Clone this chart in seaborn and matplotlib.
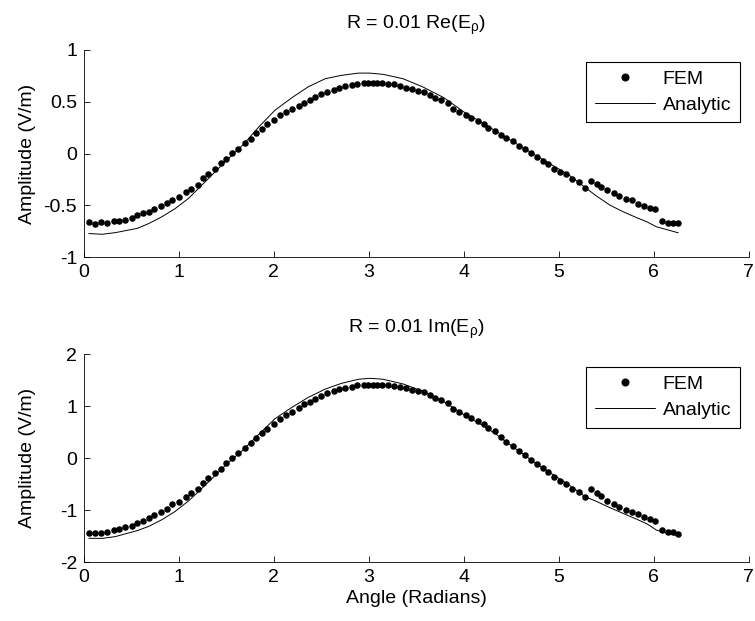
import numpy as np
import pandas as pd
import matplotlib
matplotlib.use("Agg")
import matplotlib.pyplot as plt
import seaborn as sns
from matplotlib.lines import Line2D

# ---------------- data ----------------
angle_fem = [0.05, 0.11, 0.18, 0.24, 0.31, 0.37, 0.43, 0.50, 0.56, 0.62,
             0.68, 0.74, 0.81, 0.87, 0.93, 1.00, 1.07, 1.13, 1.20, 1.25,
             1.31, 1.38, 1.44, 1.50, 1.56, 1.62, 1.70, 1.76, 1.81, 1.87,
             1.93, 2.00, 2.06, 2.13, 2.19, 2.26, 2.32, 2.38, 2.43, 2.50,
             2.56, 2.63, 2.69, 2.75, 2.82, 2.88, 2.95, 2.99, 3.04, 3.09,
             3.14, 3.20, 3.26, 3.33, 3.39, 3.45, 3.52, 3.58, 3.64, 3.70,
             3.76, 3.83, 3.89, 3.95, 4.02, 4.08, 4.15, 4.21, 4.26, 4.33,
             4.39, 4.45, 4.52, 4.58, 4.64, 4.71, 4.77, 4.83, 4.89, 4.95,
             5.01, 5.08, 5.14, 5.21, 5.28, 5.34, 5.40, 5.45, 5.51, 5.58,
             5.64, 5.71, 5.77, 5.84, 5.90, 5.96, 6.02, 6.09, 6.15, 6.20,
             6.26]

re_fem = [-0.659, -0.681, -0.662, -0.665, -0.649, -0.649, -0.636, -0.623, -0.594, -0.575,
          -0.562, -0.536, -0.501, -0.472, -0.446, -0.414, -0.372, -0.340, -0.298, -0.237,
          -0.195, -0.150, -0.092, -0.047, 0.002, 0.047, 0.105, 0.143, 0.195, 0.237,
          0.282, 0.327, 0.372, 0.401, 0.427, 0.456, 0.488, 0.517, 0.543, 0.575,
          0.594, 0.614, 0.633, 0.649, 0.662, 0.668, 0.678, 0.684, 0.684, 0.684,
          0.684, 0.671, 0.668, 0.655, 0.636, 0.623, 0.607, 0.591, 0.568, 0.533,
          0.517, 0.488, 0.427, 0.401, 0.375, 0.340, 0.311, 0.285, 0.249, 0.220,
          0.179, 0.147, 0.118, 0.072, 0.040, 0.002, -0.034, -0.070, -0.101, -0.150,
          -0.179, -0.201, -0.249, -0.278, -0.327, -0.263, -0.295, -0.321, -0.353, -0.375,
          -0.404, -0.437, -0.452, -0.488, -0.507, -0.520, -0.536, -0.649, -0.665, -0.669,
          -0.669]

im_fem = [-1.442, -1.442, -1.442, -1.410, -1.379, -1.360, -1.327, -1.300, -1.237, -1.212,
          -1.154, -1.090, -1.038, -0.981, -0.879, -0.834, -0.738, -0.673, -0.596, -0.468,
          -0.385, -0.288, -0.206, -0.096, 0.000, 0.096, 0.205, 0.288, 0.385, 0.481,
          0.564, 0.654, 0.750, 0.833, 0.885, 0.974, 1.035, 1.089, 1.140, 1.198,
          1.250, 1.294, 1.327, 1.358, 1.377, 1.404, 1.410, 1.410, 1.410, 1.410,
          1.410, 1.410, 1.396, 1.377, 1.346, 1.313, 1.294, 1.269, 1.217, 1.154,
          1.121, 1.058, 0.942, 0.885, 0.827, 0.769, 0.717, 0.654, 0.588, 0.525,
          0.415, 0.308, 0.237, 0.147, 0.063, -0.032, -0.115, -0.180, -0.269, -0.353,
          -0.436, -0.494, -0.590, -0.642, -0.738, -0.590, -0.673, -0.725, -0.821, -0.885,
          -0.942, -0.994, -1.027, -1.077, -1.123, -1.173, -1.206, -1.379, -1.410, -1.423,
          -1.456]

angle_ana = [0.05, 0.19, 0.33, 0.56, 0.68, 0.82, 0.96, 1.10, 1.24, 1.38,
             1.52, 1.68, 1.84, 2.01, 2.19, 2.36, 2.54, 2.71, 2.89, 3.01,
             3.15, 3.36, 3.57, 3.79, 4.00, 4.21, 4.35, 4.51, 4.80, 5.10,
             5.28, 5.40, 5.54, 5.68, 5.82, 5.93, 6.03, 6.14, 6.26]

re_ana = [-0.771, -0.778, -0.762, -0.721, -0.675, -0.609, -0.530, -0.432, -0.304, -0.176,
          -0.048, 0.090, 0.257, 0.418, 0.540, 0.644, 0.723, 0.755, 0.777, 0.777,
          0.765, 0.723, 0.643, 0.540, 0.403, 0.290, 0.210, 0.120, -0.040, -0.200,
          -0.327, -0.410, -0.497, -0.561, -0.617, -0.658, -0.706, -0.733, -0.764]

im_ana = [-1.538, -1.540, -1.505, -1.390, -1.310, -1.180, -1.020, -0.820, -0.580, -0.330,
          -0.080, 0.170, 0.460, 0.760, 0.980, 1.170, 1.330, 1.440, 1.520, 1.538,
          1.520, 1.430, 1.290, 1.090, 0.840, 0.620, 0.450, 0.230, -0.150, -0.500,
          -0.740, -0.830, -0.950, -1.060, -1.170, -1.260, -1.380, -1.440, -1.490]

x_ticks = [0, 1, 2, 3, 4, 5, 6, 7]
re_yticks = [-1, -0.5, 0, 0.5, 1]
im_yticks = [-2, -1, 0, 1, 2]

titles = [r"R = 0.01 Re(E$_{\mathregular{\rho}}$)", r"R = 0.01 Im(E$_{\mathregular{\rho}}$)"]
legend_labels = ["FEM", "Analytic"]
x_label = "Angle (Radians)"
y_label = "Amplitude (V/m)"

FS = 14

# ---------------- style ----------------
sns.set_theme(style="ticks")
plt.rcParams.update({
    "axes.unicode_minus": False,
    "xtick.direction": "in",
    "ytick.direction": "in",
    "xtick.major.size": 4,
    "ytick.major.size": 4,
    "xtick.major.width": 0.6,
    "ytick.major.width": 0.6,
    "axes.linewidth": 0.6,
    "axes.edgecolor": "black",
    "xtick.color": "black",
    "ytick.color": "black",
    "text.color": "black",
    "axes.labelcolor": "black",
    "font.size": FS,
    "mathtext.fontset": "custom",
    "mathtext.rm": "Liberation Sans",
    "mathtext.it": "Liberation Sans",
    "mathtext.sf": "Liberation Sans",
})
plt.rcParams["font.family"] = ["Liberation Sans", "DejaVu Sans"]

fig = plt.figure(figsize=(7.55, 6.21), dpi=100)
ax1 = fig.add_axes([0.1114, 0.5857, 0.880, 0.3338])
ax2 = fig.add_axes([0.1114, 0.0945, 0.880, 0.3350])


def panel(ax, fem, ana, yticks, title, leg_y):
    df_fem = pd.DataFrame({"Angle": angle_fem, "Amplitude": fem})
    df_ana = pd.DataFrame({"Angle": angle_ana, "Amplitude": ana})
    sns.scatterplot(data=df_fem, x="Angle", y="Amplitude", ax=ax, color="black",
                    s=22, linewidth=0, marker="o", zorder=2)
    sns.lineplot(data=df_ana, x="Angle", y="Amplitude", ax=ax, color="black",
                 linewidth=0.7, sort=False, estimator=None, zorder=3)
    ax.set_xlim(x_ticks[0], x_ticks[-1])
    ax.set_ylim(yticks[0], yticks[-1])
    ax.set_xticks(x_ticks)
    ax.set_xticklabels([str(t) for t in x_ticks], fontsize=FS)
    ax.set_yticks(yticks)
    ax.set_yticklabels([("%g" % t) for t in yticks], fontsize=FS)
    ax.tick_params(pad=5)
    sns.despine(ax=ax)
    ax.set_title(title, fontsize=FS, pad=15)
    ax.set_ylabel(y_label, fontsize=FS)
    ax.yaxis.set_label_coords(-0.072, 0.5)
    ax.set_xlabel("")
    handles = [Line2D([], [], marker="o", ls="none", color="black", markersize=4.8),
               Line2D([], [], color="black", lw=0.7)]
    leg = ax.legend(handles, legend_labels, loc="upper right",
                    bbox_to_anchor=(0.987, leg_y), borderaxespad=0,
                    frameon=True, fancybox=False, edgecolor="black",
                    framealpha=1, handlelength=3.1, handletextpad=0.37,
                    labelspacing=0.42, borderpad=0.45, fontsize=FS)
    leg.get_frame().set_linewidth(0.8)


panel(ax1, re_fem, re_ana, re_yticks, titles[0], 0.944)
panel(ax2, im_fem, im_ana, im_yticks, titles[1], 0.940)
ax2.set_xlabel(x_label, fontsize=FS, labelpad=3)

fig.savefig("out.png", dpi=100)
